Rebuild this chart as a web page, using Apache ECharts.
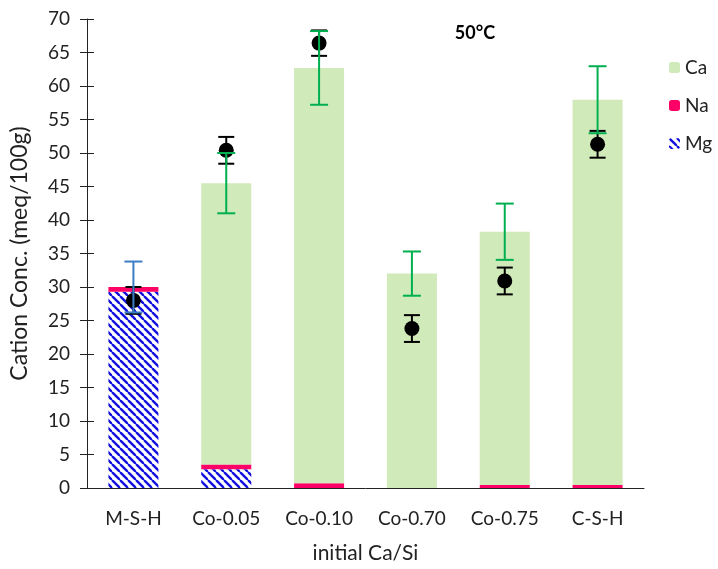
<!DOCTYPE html>
<html>
<head>
<meta charset="utf-8">
<script src="https://cdn.jsdelivr.net/npm/echarts@6/dist/echarts.min.js"></script>
<style>
html,body{margin:0;padding:0;background:#fff;}
#chart{width:718px;height:569px;}
</style>
</head>
<body>
<div id="chart"></div>
<script>
// ---- data ----
var categories = ['M-S-H', 'Co-0.05', 'Co-0.10', 'Co-0.70', 'Co-0.75', 'C-S-H'];
var mgValues = [29.3, 2.8, 0, 0, 0, 0];
var naValues = [0.7, 0.7, 0.7, 0, 0.45, 0.45];
var caValues = [0, 42.0, 62.0, 32.0, 37.8, 57.5];
var totalErr = [3.8, 4.5, 5.5, 3.3, 4.2, 5.0];
var cecValues = [28.0, 50.4, 66.4, 23.8, 30.9, 51.3];
var cecErr = [2.0, 2.0, 1.9, 2.0, 2.0, 2.0];
var yTicks = {min: 0, max: 70, interval: 5};

// ---- build ----
var FONT = 'Lato';
var chart = echarts.init(document.getElementById('chart'));

function hatch() {
  var c = document.createElement('canvas');
  c.width = 8; c.height = 8;
  var g = c.getContext('2d');
  g.fillStyle = '#ffffff';
  g.fillRect(0, 0, 8, 8);
  g.strokeStyle = '#1010E0';
  g.lineWidth = 2.4;
  [-8, 0, 8].forEach(function (o) {
    g.beginPath();
    g.moveTo(o, 0);
    g.lineTo(o + 8, 8);
    g.stroke();
  });
  return c;
}

var totals = categories.map(function (c, i) { return mgValues[i] + naValues[i] + caValues[i]; });
var totalErrData = categories.map(function (c, i) { return [i, totals[i] - totalErr[i], totals[i] + totalErr[i]]; });
var cecErrData = categories.map(function (c, i) { return [i, cecValues[i] - cecErr[i], cecValues[i] + cecErr[i]]; });

function errRender(colorFn, capHalf) {
  return function (params, api) {
    var x = api.value(0);
    var lo = api.coord([x, api.value(1)]);
    var hi = api.coord([x, api.value(2)]);
    var col = colorFn(params.dataIndex);
    var st = {stroke: col, lineWidth: 2};
    return {
      type: 'group',
      children: [
        {type: 'line', shape: {x1: hi[0], y1: hi[1], x2: lo[0], y2: lo[1]}, style: st},
        {type: 'line', shape: {x1: hi[0] - capHalf, y1: hi[1], x2: hi[0] + capHalf, y2: hi[1]}, style: st},
        {type: 'line', shape: {x1: lo[0] - capHalf, y1: lo[1], x2: lo[0] + capHalf, y2: lo[1]}, style: st}
      ]
    };
  };
}

var option = {
  animation: false,
  backgroundColor: '#ffffff',
  textStyle: {fontFamily: FONT},
  title: {
    text: '50°C',
    left: 470, top: 19, textAlign: 'center',
    textStyle: {fontFamily: FONT, fontSize: 18, fontWeight: 'bold', color: '#000'}
  },
  legend: {
    data: ['Ca', 'Na', 'Mg'],
    orient: 'vertical',
    left: 664, top: 53,
    itemWidth: 11, itemHeight: 11, itemGap: 19,
    textStyle: {fontFamily: FONT, fontSize: 19, color: '#222'}
  },
  grid: {left: 84, right: 74, top: 19, bottom: 75},
  xAxis: {
    type: 'category',
    data: categories,
    name: 'initial Ca/Si',
    nameLocation: 'middle',
    nameGap: 55,
    nameTextStyle: {fontFamily: FONT, fontSize: 21, color: '#222'},
    axisLine: {lineStyle: {color: '#222', width: 1}},
    axisTick: {length: 7, lineStyle: {color: '#222'}},
    axisLabel: {fontFamily: FONT, fontSize: 19, color: '#222', margin: 21}
  },
  yAxis: [{
    type: 'value',
    min: yTicks.min, max: yTicks.max, interval: yTicks.interval,
    name: 'Cation Conc. (meq/100g)',
    nameLocation: 'middle',
    nameGap: 56,
    nameTextStyle: {fontFamily: FONT, fontSize: 23, color: '#222'},
    axisLine: {show: true, lineStyle: {color: '#222', width: 1}},
    axisTick: {show: true, length: 7, lineStyle: {color: '#222'}},
    axisLabel: {fontFamily: FONT, fontSize: 19, color: '#222', margin: 17},
    splitLine: {show: false}
  }, {
    type: 'value', position: 'left',
    min: yTicks.min, max: yTicks.max, interval: yTicks.interval,
    axisLine: {show: false},
    axisTick: {show: true, inside: true, length: 7, lineStyle: {color: '#222'}},
    axisLabel: {show: false},
    splitLine: {show: false}
  }],
  series: [
    {name: 'Mg', type: 'bar', stack: 'c', data: mgValues, barWidth: 50,
     itemStyle: {color: {image: hatch(), repeat: 'repeat'}}},
    {name: 'Na', type: 'bar', stack: 'c', data: naValues, barWidth: 50,
     itemStyle: {color: '#FF0066'}},
    {name: 'Ca', type: 'bar', stack: 'c', data: caValues, barWidth: 50,
     itemStyle: {color: '#D0EAB9'}},
    {name: 'cecErr', type: 'custom', data: cecErrData, z: 4,
     renderItem: errRender(function () { return '#000'; }, 8), silent: true},
    {name: 'CEC', type: 'scatter', data: cecValues, symbol: 'circle', symbolSize: 15, z: 5,
     itemStyle: {color: '#000', opacity: 1}},
    {name: 'totErr', type: 'custom', data: totalErrData, z: 6,
     renderItem: errRender(function (i) { return i === 0 ? '#3C7DC4' : '#00B050'; }, 9), silent: true}
  ]
};
chart.setOption(option);
</script>
</body>
</html>
